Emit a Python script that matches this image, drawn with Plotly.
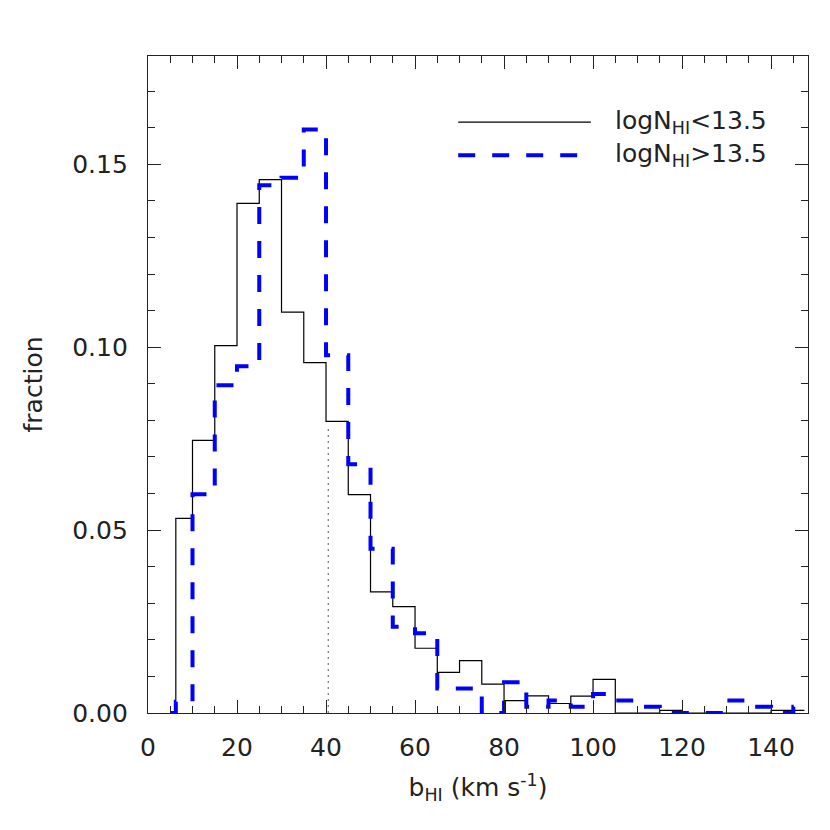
import plotly.graph_objects as go

# ---- data ----
start_x = 5.0
bin_edges = [6.25, 10, 15, 20, 25, 30, 35, 40, 45, 50, 55, 60, 65, 70, 75, 80,
             85, 90, 95, 100, 105, 110, 115, 120, 125, 130, 135, 140, 145, 147.5]
low_vals = [0.0532, 0.0745, 0.1004, 0.1393, 0.1458, 0.1096, 0.0958, 0.0797,
            0.0597, 0.0331, 0.0291, 0.0177, 0.0111, 0.0143, 0.0079, 0.0034,
            0.0047, 0.0026, 0.0046, 0.0092, 0.0, 0.0, 0.0007, 0.0, 0.0, 0.0,
            0.0, 0.0007, 0.0007]
high_vals = [0.0031, 0.0598, 0.0896, 0.0948, 0.1443, 0.1463, 0.1595, 0.0978,
             0.0680, 0.0449, 0.0236, 0.0218, 0.0067, 0.0067, 0.0, 0.0084,
             0.0017, 0.0034, 0.0017, 0.0052, 0.0034, 0.0017, 0.0, 0.0, 0.0,
             0.0034, 0.0017, 0.0, 0.0017]
median_b = 40.5
median_top = 0.078
legend_labels = ["logN<sub>HI</sub>&lt;13.5", "logN<sub>HI</sub>&gt;13.5"]

FONT = "DejaVu Sans"
AX = "#222222"
TXT = "#222222"


def step_xy(vals):
    xs = [start_x] + list(bin_edges)
    ys = [0.0] + list(vals) + [vals[-1]]
    return xs, ys


fig = go.Figure()
xs, ys = step_xy(low_vals)
fig.add_trace(go.Scatter(x=xs, y=ys, mode="lines", line_shape="hv",
                         line=dict(color="black", width=1.2), showlegend=False))
xs, ys = step_xy(high_vals)
fig.add_trace(go.Scatter(x=xs, y=ys, mode="lines", line_shape="hv",
                         line=dict(color="#0000ff", width=4, dash="17px,17px"),
                         showlegend=False))
fig.add_trace(go.Scatter(x=[median_b, median_b], y=[0, median_top], mode="lines",
                         line=dict(color="#555555", width=1, dash="2px,4px"),
                         showlegend=False))

# manual legend
leg_y = [0.8995, 0.849]
fig.add_shape(type="line", xref="paper", yref="paper", x0=0.470, x1=0.671,
              y0=leg_y[0], y1=leg_y[0], line=dict(color="black", width=1.2))
fig.add_shape(type="line", xref="paper", yref="paper", x0=0.470, x1=0.671,
              y0=leg_y[1], y1=leg_y[1],
              line=dict(color="#0000ff", width=4, dash="17px,17px"))
for lbl, yy in zip(legend_labels, leg_y):
    fig.add_annotation(text=lbl, xref="paper", yref="paper", x=0.705, y=yy,
                       xanchor="left", yanchor="middle", showarrow=False,
                       font=dict(family=FONT, size=25, color=TXT))

common = dict(showline=True, linecolor=AX, linewidth=1.2, mirror="ticks",
              ticks="inside", tickcolor=AX, tickwidth=1.2, ticklen=13,
              showgrid=False, zeroline=False,
              tickfont=dict(family=FONT, size=25, color=TXT))

fig.update_xaxes(range=[0, 148.3], tickmode="array",
                 tickvals=[0, 20, 40, 60, 80, 100, 120, 140],
                 minor=dict(dtick=5, tick0=0, ticks="inside", ticklen=7,
                            tickcolor=AX, tickwidth=1.2),
                 ticklabelstandoff=12,
                 title=dict(text="b<sub>HI</sub> (km s<sup>-1</sup>)",
                            font=dict(family=FONT, size=25, color=TXT),
                            standoff=17),
                 **common)
fig.update_yaxes(range=[0, 0.1796], tickmode="array",
                 tickvals=[0, 0.05, 0.10, 0.15], tickformat=".2f",
                 minor=dict(dtick=0.01, tick0=0, ticks="inside", ticklen=7,
                            tickcolor=AX, tickwidth=1.2),
                 ticklabelstandoff=14,
                 title=dict(text="fraction",
                            font=dict(family=FONT, size=25, color=TXT),
                            standoff=22),
                 **common)

fig.update_layout(width=830, height=830, paper_bgcolor="white",
                  plot_bgcolor="white",
                  margin=dict(l=140, r=30, t=48, b=125, autoexpand=False),
                  showlegend=False)

fig.write_html("out.html")
